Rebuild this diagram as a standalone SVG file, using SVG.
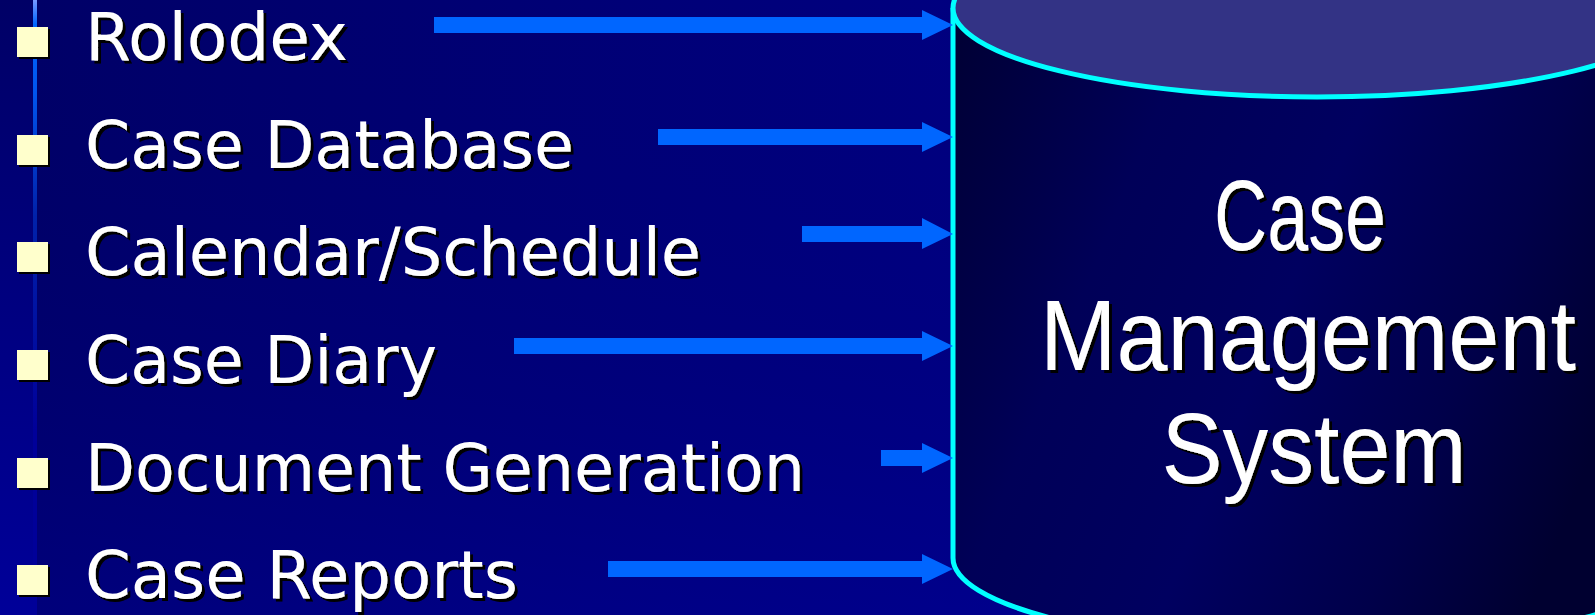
<svg xmlns="http://www.w3.org/2000/svg" width="1595" height="615" viewBox="0 0 1595 615">
<defs>
<linearGradient id="bg" x1="0" y1="0" x2="1" y2="0">
<stop offset="0" stop-color="#000066"/>
<stop offset="0.6" stop-color="#000080"/>
<stop offset="1" stop-color="#000088"/>
</linearGradient>
<linearGradient id="bgv" x1="0" y1="0" x2="0" y2="1">
<stop offset="0" stop-color="#000066" stop-opacity="0"/>
<stop offset="1" stop-color="#0000a0" stop-opacity="0.35"/>
</linearGradient>
<linearGradient id="strip" x1="0" y1="0" x2="0" y2="1">
<stop offset="0" stop-color="#000066"/>
<stop offset="0.5" stop-color="#000080"/>
<stop offset="1" stop-color="#000099"/>
</linearGradient>
<linearGradient id="vline" x1="0" y1="0" x2="0" y2="1">
<stop offset="0" stop-color="#7799ff"/>
<stop offset="0.04" stop-color="#0066ff"/>
<stop offset="0.15" stop-color="#0055ee"/>
<stop offset="0.35" stop-color="#0022aa"/>
<stop offset="0.7" stop-color="#000099"/>
<stop offset="1" stop-color="#000099"/>
</linearGradient>
<linearGradient id="body" x1="0" y1="0" x2="1" y2="0.35">
<stop offset="0" stop-color="#000033"/>
<stop offset="0.3" stop-color="#000058"/>
<stop offset="0.55" stop-color="#000060"/>
<stop offset="0.8" stop-color="#00004a"/>
<stop offset="1" stop-color="#000030"/>
</linearGradient>
<filter id="sh" x="-5%" y="-20%" width="115%" height="150%">
<feDropShadow dx="3" dy="3" stdDeviation="0" flood-color="#000000" flood-opacity="1"/>
</filter>
<filter id="shb" x="-20%" y="-20%" width="150%" height="150%">
<feDropShadow dx="2" dy="2" stdDeviation="0" flood-color="#000000" flood-opacity="1"/>
</filter>
</defs>
<style>
.item{font-family:"DejaVu Sans","Verdana",sans-serif;font-size:66px;fill:#ffffff;filter:url(#sh)}
.bullet{fill:#ffffcc;filter:url(#shb)}
.arrow{fill:#0066ff}
.cyl{font-family:"Liberation Sans",Arial,sans-serif;font-size:100px;fill:#ffffff;filter:url(#sh);text-anchor:middle}
.edge{fill:none;stroke:#00ffff;stroke-width:5}
</style>
<rect x="0" y="0" width="1595" height="615" fill="url(#bg)"/>
<rect x="0" y="0" width="1595" height="615" fill="url(#bgv)"/>
<rect x="0" y="0" width="37" height="615" fill="url(#strip)"/>
<rect x="33" y="0" width="4" height="615" fill="url(#vline)"/>

<g id="item-rolodex"><rect class="bullet" x="17" y="27" width="31" height="30"/><text class="item" x="85" y="60" textLength="263" lengthAdjust="spacingAndGlyphs">Rolodex</text></g>
<g id="item-case-database"><rect class="bullet" x="17" y="135" width="31" height="30"/><text class="item" x="85" y="168" textLength="489" lengthAdjust="spacingAndGlyphs">Case Database</text></g>
<g id="item-calendar"><rect class="bullet" x="17" y="242" width="31" height="30"/><text class="item" x="85" y="275" textLength="616" lengthAdjust="spacingAndGlyphs">Calendar/Schedule</text></g>
<g id="item-case-diary"><rect class="bullet" x="17" y="350" width="31" height="30"/><text class="item" x="85" y="383" textLength="352" lengthAdjust="spacingAndGlyphs">Case Diary</text></g>
<g id="item-document-generation"><rect class="bullet" x="17" y="458" width="31" height="30"/><text class="item" x="85" y="491" textLength="720" lengthAdjust="spacingAndGlyphs">Document Generation</text></g>
<g id="item-case-reports"><rect class="bullet" x="17" y="565" width="31" height="30"/><text class="item" x="85" y="598" textLength="433" lengthAdjust="spacingAndGlyphs">Case Reports</text></g>

<g id="cylinder">
<path d="M953,8 L953,558 A364,88 0 0 0 1681,558 L1681,8 Z" fill="url(#body)"/>
<path class="edge" d="M953,8 L953,558 A364,88 0 0 0 1681,558"/>
<ellipse cx="1317" cy="8" rx="364" ry="89" fill="#333385" stroke="#00ffff" stroke-width="5"/>
<text class="cyl" x="1300" y="250" textLength="172" lengthAdjust="spacingAndGlyphs">Case</text>
<text class="cyl" x="1308" y="370" textLength="536" lengthAdjust="spacingAndGlyphs">Management</text>
<text class="cyl" x="1314" y="483" textLength="305" lengthAdjust="spacingAndGlyphs">System</text>
</g>

<g id="connectors">
<path class="arrow" d="M434,17 H922 V10 L953,25 L922,40 V33 H434 Z"/>
<path class="arrow" d="M658,129 H922 V122 L953,137 L922,152 V145 H658 Z"/>
<path class="arrow" d="M802,226 H922 V218 L953,234 L922,249 V242 H802 Z"/>
<path class="arrow" d="M514,338 H922 V331 L953,346 L922,361 V354 H514 Z"/>
<path class="arrow" d="M881,450 H922 V443 L953,458 L922,473 V466 H881 Z"/>
<path class="arrow" d="M608,561 H922 V554 L953,569 L922,584 V577 H608 Z"/>
</g>
</svg>
